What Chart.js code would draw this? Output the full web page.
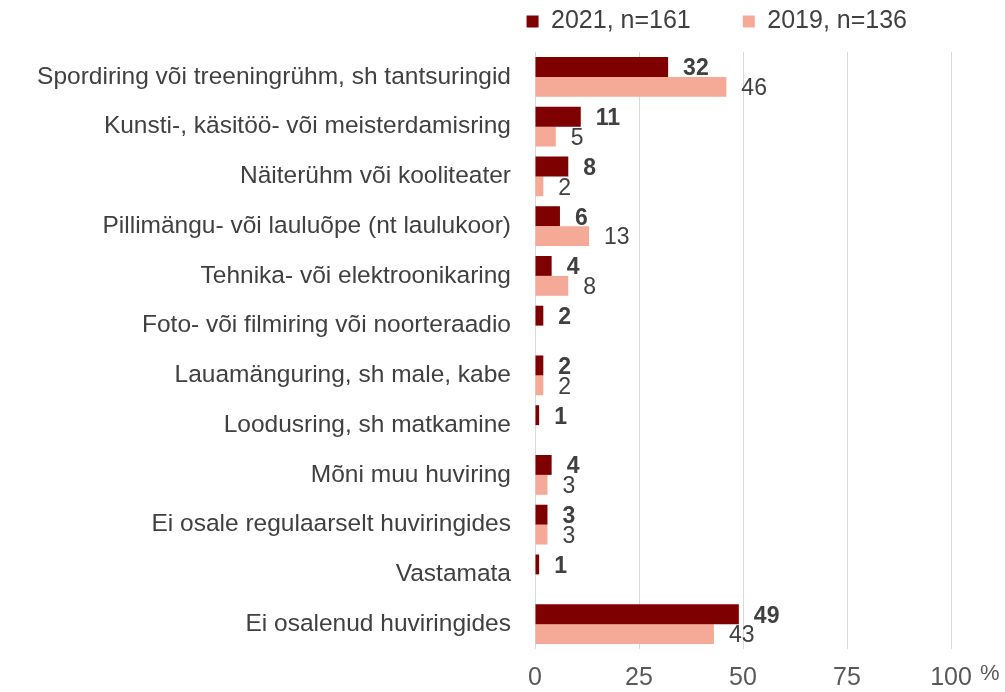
<!DOCTYPE html>
<html>
<head>
<meta charset="utf-8">
<script src="https://cdn.jsdelivr.net/npm/chart.js@4.4.1/dist/chart.umd.min.js"></script>
<style>
  html, body { margin: 0; padding: 0; background: #fff; }
  #wrap { width: 1005px; height: 692px; }
</style>
</head>
<body>
<div id="wrap"><canvas id="chart" width="1005" height="692"></canvas></div>
<script>
var categories = [
    "Spordiring või treeningrühm, sh tantsuringid",
    "Kunsti-, käsitöö- või meisterdamisring",
    "Näiterühm või kooliteater",
    "Pillimängu- või lauluõpe (nt laulukoor)",
    "Tehnika- või elektroonikaring",
    "Foto- või filmiring või noorteraadio",
    "Lauamänguring, sh male, kabe",
    "Loodusring, sh matkamine",
    "Mõni muu huviring",
    "Ei osale regulaarselt huviringides",
    "Vastamata",
    "Ei osalenud huviringides"
];
var values2021 = [32, 11, 8, 6, 4, 2, 2, 1, 4, 3, 1, 49];
var values2019 = [46, 5, 2, 13, 8, null, 2, null, 3, 3, null, 43];
var seriesNames = ["2021, n=161", "2019, n=136"];
var xTicks = [0, 25, 50, 75, 100];

var textColor = "#404040";
var fontName = "'Liberation Sans', Arial, sans-serif";

// value labels next to bar ends
var barLabels = {
    id: 'barLabels',
    afterDatasetsDraw: function(chart) {
        var ctx = chart.ctx;
        ctx.save();
        ctx.fillStyle = textColor;
        ctx.textBaseline = 'middle';
        ctx.textAlign = 'left';
        chart.data.datasets.forEach(function(ds, i) {
            var meta = chart.getDatasetMeta(i);
            ctx.font = (i === 0 ? "bold " : "") + "23px " + fontName;
            meta.data.forEach(function(bar, j) {
                var v = ds.data[j];
                if (v === null || v === undefined) return;
                ctx.fillText(String(v), bar.x + 15, bar.y + 2);
            });
        });
        ctx.restore();
    }
};

// small raised "%" after the last x tick
var percentSign = {
    id: 'percentSign',
    afterDraw: function(chart) {
        var xs = chart.scales.x;
        var ctx = chart.ctx;
        ctx.save();
        ctx.fillStyle = "#595959";
        ctx.font = "22px " + fontName;
        ctx.textAlign = 'left';
        ctx.textBaseline = 'middle';
        ctx.fillText("%", xs.getPixelForValue(100) + 29, xs.top + 25);
        ctx.restore();
    }
};

// nudge the legend a bit (up and right) like in the original
var legendShift = {
    id: 'legendShift',
    afterLayout: function(chart) {
        var lg = chart.legend;
        if (!lg) return;
        lg.left += 8; lg.right += 8;
        lg.top -= 8; lg.bottom -= 8;
    }
};

new Chart(document.getElementById('chart'), {
    type: 'bar',
    data: {
        labels: categories,
        datasets: [{
            label: seriesNames[0],
            data: values2021,
            backgroundColor: "#7f0000",
            categoryPercentage: 0.8,
            barPercentage: 1.0
        }, {
            label: seriesNames[1],
            data: values2019,
            backgroundColor: "#f4aa96",
            categoryPercentage: 0.8,
            barPercentage: 1.0
        }]
    },
    options: {
        indexAxis: 'y',
        responsive: false,
        animation: false,
        layout: { padding: { left: 0, right: 54, top: -35, bottom: 0 } },
        plugins: {
            tooltip: { enabled: false },
            legend: {
                position: 'top',
                align: 'end',
                labels: {
                    boxWidth: 12,
                    boxHeight: 12,
                    padding: 52,
                    color: textColor,
                    font: { size: 25, family: fontName }
                }
            }
        },
        scales: {
            x: {
                min: 0,
                max: 100,
                afterBuildTicks: function(scale) {
                    scale.ticks = xTicks.map(function(v) { return { value: v }; });
                },
                afterFit: function(scale) { scale.height = 43; },
                grid: { color: "#d9d9d9", lineWidth: 1, drawTicks: false },
                border: { display: false },
                ticks: {
                    color: "#595959",
                    padding: 14,
                    maxRotation: 0,
                    font: { size: 25, family: fontName }
                }
            },
            y: {
                grid: { display: false, drawTicks: false },
                border: { display: false },
                afterFit: function(scale) { scale.width = 535; },
                ticks: {
                    color: textColor,
                    padding: 24,
                    autoSkip: false,
                    font: { size: 24.5, family: fontName }
                }
            }
        }
    },
    plugins: [barLabels, percentSign, legendShift]
});
</script>
</body>
</html>
